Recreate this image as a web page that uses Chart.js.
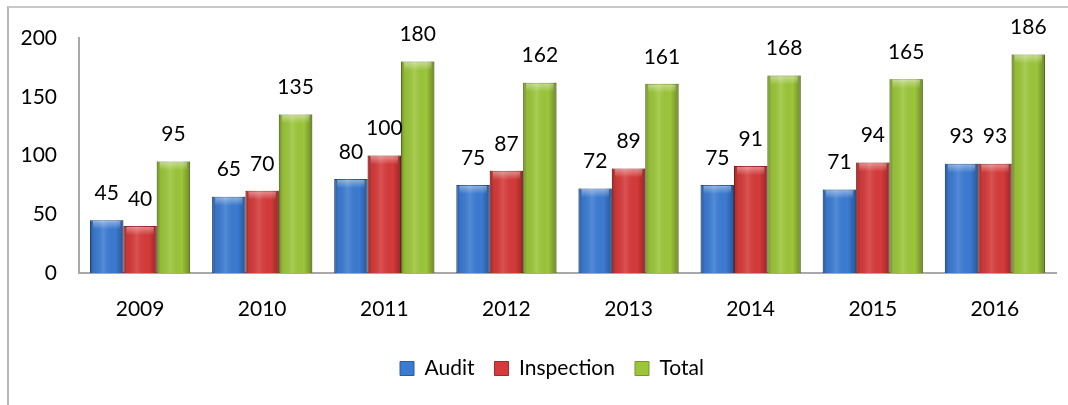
<!DOCTYPE html>
<html>
<head>
<meta charset="utf-8">
<script src="https://cdn.jsdelivr.net/npm/chart.js@4/dist/chart.umd.min.js"></script>
<style>
  html,body{margin:0;padding:0;background:#fff;}
  #wrap{position:relative;width:1068px;height:405px;overflow:hidden;}
  #frame{position:absolute;left:7px;top:6px;width:1100px;height:500px;border-left:2px solid #b8b8b8;border-top:2px solid #c8c8c8;}
  canvas{position:absolute;left:0;top:0;}
</style>
</head>
<body>
<div id="wrap">
  <div id="frame"></div>
  <canvas id="c" width="1068" height="405"></canvas>
</div>
<script>
const categories = ["2009","2010","2011","2012","2013","2014","2015","2016"];
const audit      = [45, 65, 80, 75, 72, 75, 71, 93];
const inspection = [40, 70, 100, 87, 89, 91, 94, 93];
const total      = [95, 135, 180, 162, 161, 168, 165, 186];
const yTicks     = [0, 50, 100, 150, 200];

const FONT = "Lato, 'Open Sans', sans-serif";

const barShade = {
  id: 'barShade',
  afterDatasetsDraw(chart) {
    const ctx = chart.ctx;
    chart.data.datasets.forEach((ds, i) => {
      const meta = chart.getDatasetMeta(i);
      meta.data.forEach((el) => {
        const left = el.x - el.width / 2, right = el.x + el.width / 2;
        const top = el.y, bottom = el.base;
        ctx.save();
        const g = ctx.createLinearGradient(left, 0, right, 0);
        g.addColorStop(0, 'rgba(0,0,0,0.28)');
        g.addColorStop(0.12, 'rgba(0,0,0,0.05)');
        g.addColorStop(0.4, 'rgba(255,255,255,0.12)');
        g.addColorStop(0.75, 'rgba(0,0,0,0.0)');
        g.addColorStop(1, 'rgba(0,0,0,0.3)');
        ctx.fillStyle = g;
        ctx.fillRect(left, top, right - left, bottom - top);
        const h = Math.min(9, bottom - top);
        const g2 = ctx.createLinearGradient(0, top, 0, top + h);
        g2.addColorStop(0, 'rgba(255,255,255,0.45)');
        g2.addColorStop(1, 'rgba(255,255,255,0)');
        ctx.fillStyle = g2;
        ctx.fillRect(left + 3, top + 1, right - left - 6, h);
        ctx.restore();
      });
    });
  }
};

const valueLabels = {
  id: 'valueLabels',
  afterDatasetsDraw(chart) {
    const ctx = chart.ctx;
    ctx.save();
    ctx.font = "21px " + FONT;
    ctx.fillStyle = '#000';
    ctx.textAlign = 'center';
    ctx.textBaseline = 'middle';
    chart.data.datasets.forEach((ds, i) => {
      const meta = chart.getDatasetMeta(i);
      meta.data.forEach((el, j) => {
        ctx.fillText(String(ds.data[j]), el.x, el.y - 27);
      });
    });
    ctx.restore();
  }
};

// shift the legend block slightly right, as in the original
const legendShift = {
  id: 'legendShift',
  afterLayout(chart) {
    if (chart.legend) { chart.legend.left += 20; chart.legend.right += 20; }
  }
};

new Chart(document.getElementById('c'), {
  type: 'bar',
  data: {
    labels: categories,
    datasets: [
      {label: 'Audit', data: audit, backgroundColor: '#3b7bd2', borderColor: '#2c5d9e', borderWidth: 1},
      {label: 'Inspection', data: inspection, backgroundColor: '#d63a3a', borderColor: '#a42a2a', borderWidth: 1},
      {label: 'Total', data: total, backgroundColor: '#9cc63a', borderColor: '#76982a', borderWidth: 1}
    ]
  },
  options: {
    responsive: false,
    animation: false,
    events: [],
    layout: {padding: {left: 8, right: 12, top: 38, bottom: 16}},
    datasets: {bar: {categoryPercentage: 0.82, barPercentage: 1.0}},
    plugins: {
      legend: {
        position: 'bottom',
        labels: {
          font: {family: FONT, size: 21},
          color: '#000',
          boxWidth: 14, boxHeight: 14,
          padding: 20
        }
      },
      tooltip: {enabled: false},
      title: {display: false}
    },
    scales: {
      x: {
        grid: {display: false},
        border: {display: true, color: '#a8a8a8', width: 2},
        ticks: {font: {family: FONT, size: 21}, color: '#000', padding: 16},
        afterFit(s) { s.height = 65; }
      },
      y: {
        min: 0, max: 200,
        afterBuildTicks(s) { s.ticks = yTicks.map(v => ({value: v})); },
        grid: {display: false},
        border: {display: true, color: '#a8a8a8', width: 2},
        ticks: {font: {family: FONT, size: 21}, color: '#000', padding: 14},
        afterFit(s) { s.width = 71; }
      }
    }
  },
  plugins: [barShade, valueLabels, legendShift]
});
</script>
</body>
</html>
